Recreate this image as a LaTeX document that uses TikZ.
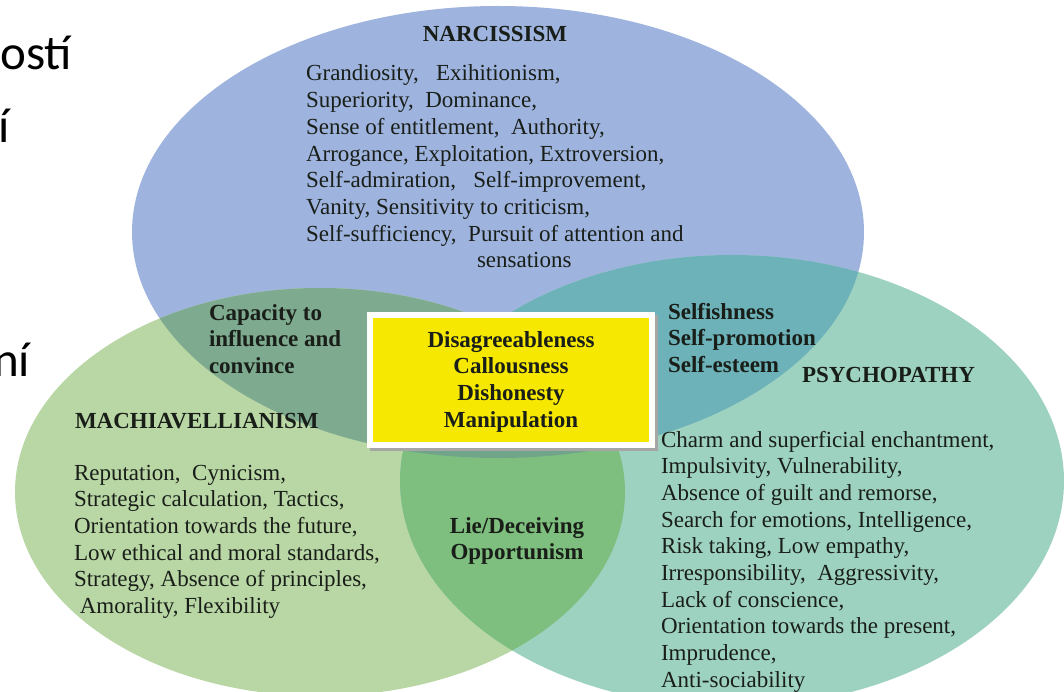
\documentclass[tikz,border=0pt]{standalone}
\usepackage{fontspec}
\setmainfont{Liberation Serif}
\newfontfamily\slidefont{Carlito}
\definecolor{cN}{RGB}{158,180,222}
\definecolor{cM}{RGB}{185,215,165}
\definecolor{cP}{RGB}{158,210,192}
\definecolor{cNM}{RGB}{126,170,143}
\definecolor{cNP}{RGB}{108,178,184}
\definecolor{cMP}{RGB}{126,190,126}
\definecolor{cNMP}{RGB}{112,165,140}
\definecolor{cY}{RGB}{246,232,0}
\definecolor{ink}{RGB}{25,30,25}
\tikzset{
  txt/.style={inner sep=0pt, outer sep=0pt, text=ink, font=\fontsize{23}{26.7}\selectfont},
  btxt/.style={txt, font=\fontsize{23}{26.7}\selectfont\bfseries},
  slide/.style={inner sep=0pt, outer sep=0pt, text=black, font=\slidefont\fontsize{49}{58}\selectfont},
  corebox/.style={rectangle, fill=cY, draw=white, line width=6pt, minimum width=282pt, minimum height=130pt, inner sep=0pt}
}
\begin{document}
\begin{tikzpicture}[x=1pt,y=-1pt]
\useasboundingbox (0,0) rectangle (1064,692);
\fill[white] (0,0) rectangle (1064,692);
\begin{scope}
\clip (0,0) rectangle (1064,692);
% base ellipses
\fill[cN] (498,232) ellipse [x radius=366pt, y radius=226pt];
\fill[cM] (320,492) ellipse [x radius=305pt, y radius=204pt];
\fill[cP] (732,481) ellipse [x radius=332pt, y radius=226pt];
% pairwise overlaps
\begin{scope}
  \clip (498,232) ellipse [x radius=366pt, y radius=226pt];
  \fill[cNM] (320,492) ellipse [x radius=305pt, y radius=204pt];
\end{scope}
\begin{scope}
  \clip (498,232) ellipse [x radius=366pt, y radius=226pt];
  \fill[cNP] (732,481) ellipse [x radius=332pt, y radius=226pt];
\end{scope}
\begin{scope}
  \clip (320,492) ellipse [x radius=305pt, y radius=204pt];
  \fill[cMP] (732,481) ellipse [x radius=332pt, y radius=226pt];
\end{scope}
\begin{scope}
  \clip (498,232) ellipse [x radius=366pt, y radius=226pt];
  \clip (320,492) ellipse [x radius=305pt, y radius=204pt];
  \fill[cNMP] (732,481) ellipse [x radius=332pt, y radius=226pt];
\end{scope}
% cropped slide text at the left edge
\node[slide, anchor=base east] (s1) at (72,70) {ostí};
\node[slide, anchor=base east] (s2) at (10,143) {í};
\node[slide, anchor=base east] (s3) at (30,376) {ní};
\end{scope}

% central box
\fill[black!35] (370,315) rectangle (658,451);
\node[corebox] (core) at (511,380) {};
\node[btxt, anchor=base] (coretxt) at (511,347)
  {\begin{tabular}[t]{@{}c@{}}Disagreeableness\\Callousness\\Dishonesty\\Manipulation\end{tabular}};

% Narcissism
\node[btxt, anchor=base] (narcT) at (495,42) {NARCISSISM};
\node[txt, anchor=base west] (narcL) at (306,81)
  {\begin{tabular}[t]{@{}l@{}}Grandiosity,\ \ \ Exihitionism,\\
  Superiority,\ \ Dominance,\\
  Sense of entitlement,\ \ Authority,\\
  Arrogance, Exploitation, Extroversion,\\
  Self-admiration,\ \ \ Self-improvement,\\
  Vanity, Sensitivity to criticism,\\
  Self-sufficiency,\ \ Pursuit of attention and\\
  \hspace*{171pt}sensations\end{tabular}};

% Machiavellianism
\node[btxt, anchor=base west] (machT) at (75,428) {MACHIAVELLIANISM};
\node[txt, anchor=base west] (machL) at (74,480)
  {\begin{tabular}[t]{@{}l@{}}Reputation,\ \ Cynicism,\\
  Strategic calculation, Tactics,\\
  Orientation towards the future,\\
  Low ethical and moral standards,\\
  Strategy, Absence of principles,\\
  \ Amorality, Flexibility\end{tabular}};

% Psychopathy
\node[btxt, anchor=base west] (psyT) at (802,382) {PSYCHOPATHY};
\node[txt, anchor=base west] (psyL) at (661,447)
  {\begin{tabular}[t]{@{}l@{}}Charm and superficial enchantment,\\
  Impulsivity, Vulnerability,\\
  Absence of guilt and remorse,\\
  Search for emotions, Intelligence,\\
  Risk taking, Low empathy,\\
  Irresponsibility,\ \ Aggressivity,\\
  Lack of conscience,\\
  Orientation towards the present,\\
  Imprudence,\\
  Anti-sociability\end{tabular}};

% overlaps
\node[btxt, anchor=base west] (nm) at (209,320)
  {\begin{tabular}[t]{@{}l@{}}Capacity to\\influence and\\convince\end{tabular}};
\node[btxt, anchor=base west] (np) at (668,319)
  {\begin{tabular}[t]{@{}l@{}}Selfishness\\Self-promotion\\Self-esteem\end{tabular}};
\node[btxt, anchor=base] (mp) at (517,533)
  {\begin{tabular}[t]{@{}c@{}}Lie/Deceiving\\Opportunism\end{tabular}};
\end{tikzpicture}
\end{document}
